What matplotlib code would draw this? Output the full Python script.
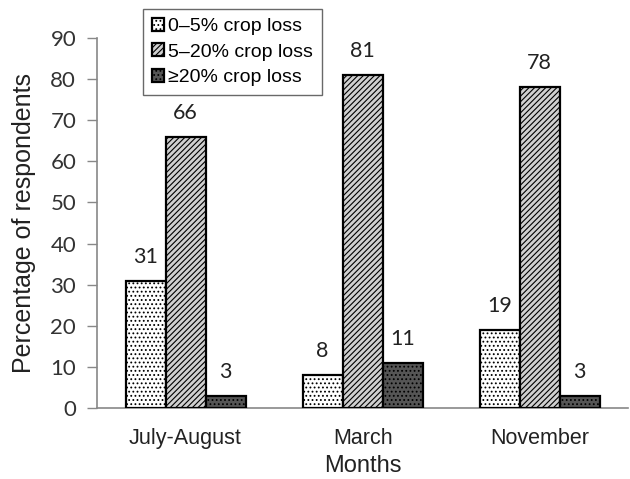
import matplotlib
matplotlib.use("Agg")
import matplotlib.pyplot as plt
import numpy as np

months = ["July-August", "March", "November"]
series_names = ["0\u20135% crop loss", "5\u201320% crop loss", "\u226520% crop loss"]
loss_0_5 = [31, 8, 19]
loss_5_20 = [66, 81, 78]
loss_20_plus = [3, 11, 3]
y_ticks = [0, 10, 20, 30, 40, 50, 60, 70, 80, 90]

plt.rcParams['hatch.linewidth'] = 0.8

fig = plt.figure(figsize=(6.3, 4.79), dpi=100)
ax = fig.add_axes([0.154, 0.148, 0.843, 0.773])

x = np.arange(len(months))
w = 0.226
styles = [
    dict(facecolor="white", hatch="....", hatch_color="#777777"),
    dict(facecolor="#d0d0d0", hatch="//////", hatch_color="#333333"),
    dict(facecolor="#555555", hatch="....", hatch_color="#777777"),
]
all_vals = [loss_0_5, loss_5_20, loss_20_plus]
handles = []
for i, (vals, st, name) in enumerate(zip(all_vals, styles, series_names)):
    bars = ax.bar(x + (i - 1) * w, vals, width=w, facecolor=st["facecolor"],
                  edgecolor="black", linewidth=1.6, hatch=st["hatch"], label=name,
                  zorder=3)
    for b in bars:
        b._hatch_color = matplotlib.colors.to_rgba(st["hatch_color"])
        b.set_edgecolor("black")
    for xi, v in zip(x + (i - 1) * w, vals):
        ax.annotate(str(v), (xi, v), xytext=(0, 10), textcoords="offset points",
                    ha="center", va="bottom", fontsize=15.5, family="Lato",
                    color="#222222")
    handles.append(bars)

ax.set_xlim(-0.5, 2.5)
ax.set_ylim(0, 90)
ax.set_yticks(y_ticks)
ax.set_yticklabels([str(t) for t in y_ticks], fontsize=16, family="Lato", color="#333333")
ax.set_xticks(x)
ax.set_xticklabels(months, fontsize=15.5, family="Liberation Sans", color="#222222")
ax.tick_params(axis="x", length=0, pad=14)
ax.tick_params(axis="y", length=7, width=1, color="#888888", direction="out", pad=8)
for s in ["top", "right"]:
    ax.spines[s].set_visible(False)
for s in ["left", "bottom"]:
    ax.spines[s].set_color("#888888")
    ax.spines[s].set_linewidth(1.2)

ax.set_ylabel("Percentage of respondents", fontsize=18, family="Liberation Sans",
              color="#222222", labelpad=10)
ax.set_xlabel("Months", fontsize=17, family="Liberation Sans", color="#222222", labelpad=5)

leg = fig.legend(handles=handles, labels=series_names, loc="upper left",
                 bbox_to_anchor=(143 / 630, 1 - 9 / 479),
                 prop={"family": "Liberation Sans", "size": 14},
                 frameon=True, fancybox=False, edgecolor="#444444",
                 handlelength=0.65, handleheight=0.65, handletextpad=0.2,
                 borderpad=0.45, labelspacing=0.42, borderaxespad=0)
leg.get_frame().set_linewidth(1.0)

fig.savefig("out.png", dpi=100)
